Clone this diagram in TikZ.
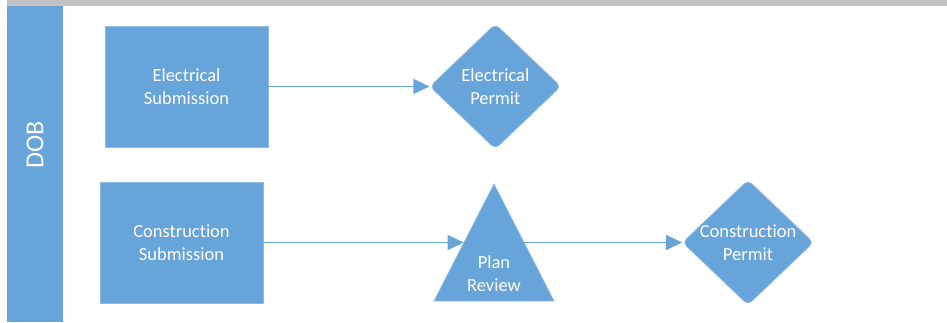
\documentclass[tikz,border=0pt]{standalone}
\usepackage{fontspec}
\setmainfont{Carlito}[Ligatures={NoCommon,NoRare}]
\usepackage{xcolor}
\usepackage{tikz}
\usetikzlibrary{shapes.geometric, arrows.meta, positioning}
\definecolor{bargray}{HTML}{C3C3C3}
\definecolor{flowblue}{HTML}{67A4D9}

\begin{document}
\begin{tikzpicture}[x=1pt, y=-1pt, shapetext/.style={align=center, text=white, font=\fontsize{18.5}{23}\selectfont}, box/.style={rectangle, fill=flowblue, draw=flowblue!75!white, line width=0.8pt, minimum width=163pt, minimum height=121pt, shapetext}, decision/.style={diamond, fill=flowblue, draw=flowblue!75!white, line width=0.8pt, rounded corners=5pt, inner sep=0pt, minimum width=131pt, minimum height=125pt}, review/.style={isosceles triangle, isosceles triangle stretches, shape border rotate=90, fill=flowblue, draw=flowblue!75!white, line width=0.8pt, inner sep=0pt, minimum width=120pt, minimum height=117pt, shapetext}, arrow/.style={-{Triangle[length=16pt, width=15pt]}, draw=flowblue, line width=1.4pt}]
\useasboundingbox (0,0) rectangle (947,322);
% swimlane
\fill[bargray] (7,0) rectangle (947,6);
\fill[flowblue] (7,6) rectangle (63,322);
\node[rotate=90, text=white, font=\fontsize{26}{30}\selectfont] (dob) at (35,145) {DOB};
% electrical row
\node[box] (esub) at (186.5,86.5) {Electrical\\Submission};
\node[decision, right=161pt of esub, label={[shapetext]center:{Electrical\\Permit}}] (eper) {};
% construction row
\node[box] (csub) at (181.5,242.5) {Construction\\Submission};
\node[review, anchor=apex] (rev) at (494,183) {Plan\\Review};
\node[decision, label={[shapetext]center:{Construction\\Permit}}] (cper) at (748,242.5) {};
\draw[arrow] (esub) -- (eper);
\draw[arrow] (csub.east) -- (csub.east -| rev.left side);
\draw[arrow] (csub.east -| rev.right side) -- (cper);
\end{tikzpicture}
\end{document}
